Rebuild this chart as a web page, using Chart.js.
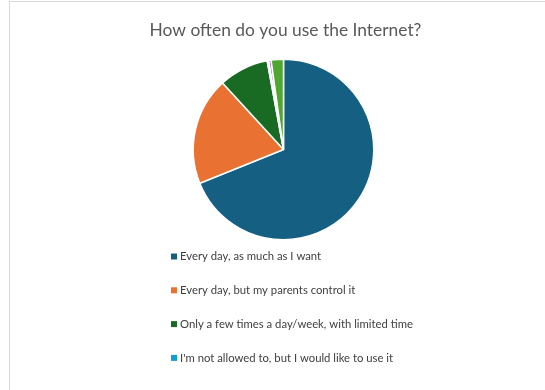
<!DOCTYPE html>
<html>
<head>
<meta charset="utf-8">
<script src="https://cdn.jsdelivr.net/npm/chart.js@4/dist/chart.umd.min.js"></script>
<style>
  html, body { margin: 0; padding: 0; background: #fff; }
  #wrap { position: relative; width: 545px; height: 390px; overflow: hidden; }
  #frame { position: absolute; left: 9px; top: 1px; width: 560px; height: 420px; border: 1px solid #d9d9d9; box-sizing: border-box; }
  canvas { position: absolute; left: 0; top: 0; }
</style>
</head>
<body>
<div id="wrap">
  <div id="frame"></div>
  <canvas id="myChart" width="545" height="390"></canvas>
</div>
<script>
const title = 'How often do you use the Internet?';

const labels = [
  'Every day, as much as I want',
  'Every day, but my parents control it',
  'Only a few times a day/week, with limited time',
  "I'm not allowed to, but I would like to use it",
  "I don't want to use it",
  'Other'
];

// shares in percent
const values = [68.9, 19.3, 8.9, 0.3, 0.4, 2.2];

const colors = ['#156082', '#E97132', '#196B24', '#0F9ED5', '#A02B93', '#4EA72E'];

// title + legend column under the pie; the legend box only has room for 4 rows
const sideText = {
  id: 'sideText',
  afterDraw(chart) {
    const c = chart.ctx;
    c.save();
    c.fillStyle = '#595959';
    c.font = '17.4px Lato, sans-serif';
    c.textAlign = 'center';
    c.textBaseline = 'middle';
    c.fillText(title, 285.5, 30.5);

    c.font = '11.3px Lato, sans-serif';
    c.textAlign = 'left';
    chart.data.labels.forEach((lab, i) => {
      const y = 256.5 + i * 33.8;
      if (y + 8 > 390) return;
      c.fillStyle = chart.data.datasets[0].backgroundColor[i];
      c.fillRect(171, y - 3, 6, 6);
      c.fillStyle = '#404040';
      c.fillText(lab, 180, y);
    });
    c.restore();
  }
};

var ctx = document.getElementById('myChart');

var myChart = new Chart(ctx, {
  type: 'pie',
  data: {
    labels: labels,
    datasets: [{
      data: values,
      backgroundColor: colors,
      borderColor: '#ffffff',
      borderWidth: 1.5
    }]
  },
  options: {
    responsive: false,
    animation: false,
    layout: {
      padding: { left: 192.5, right: 170.5, top: 58.5, bottom: 149.5 }
    },
    plugins: {
      legend: { display: false },
      title: { display: false },
      tooltip: { enabled: false }
    }
  },
  plugins: [sideText]
});
</script>
</body>
</html>
